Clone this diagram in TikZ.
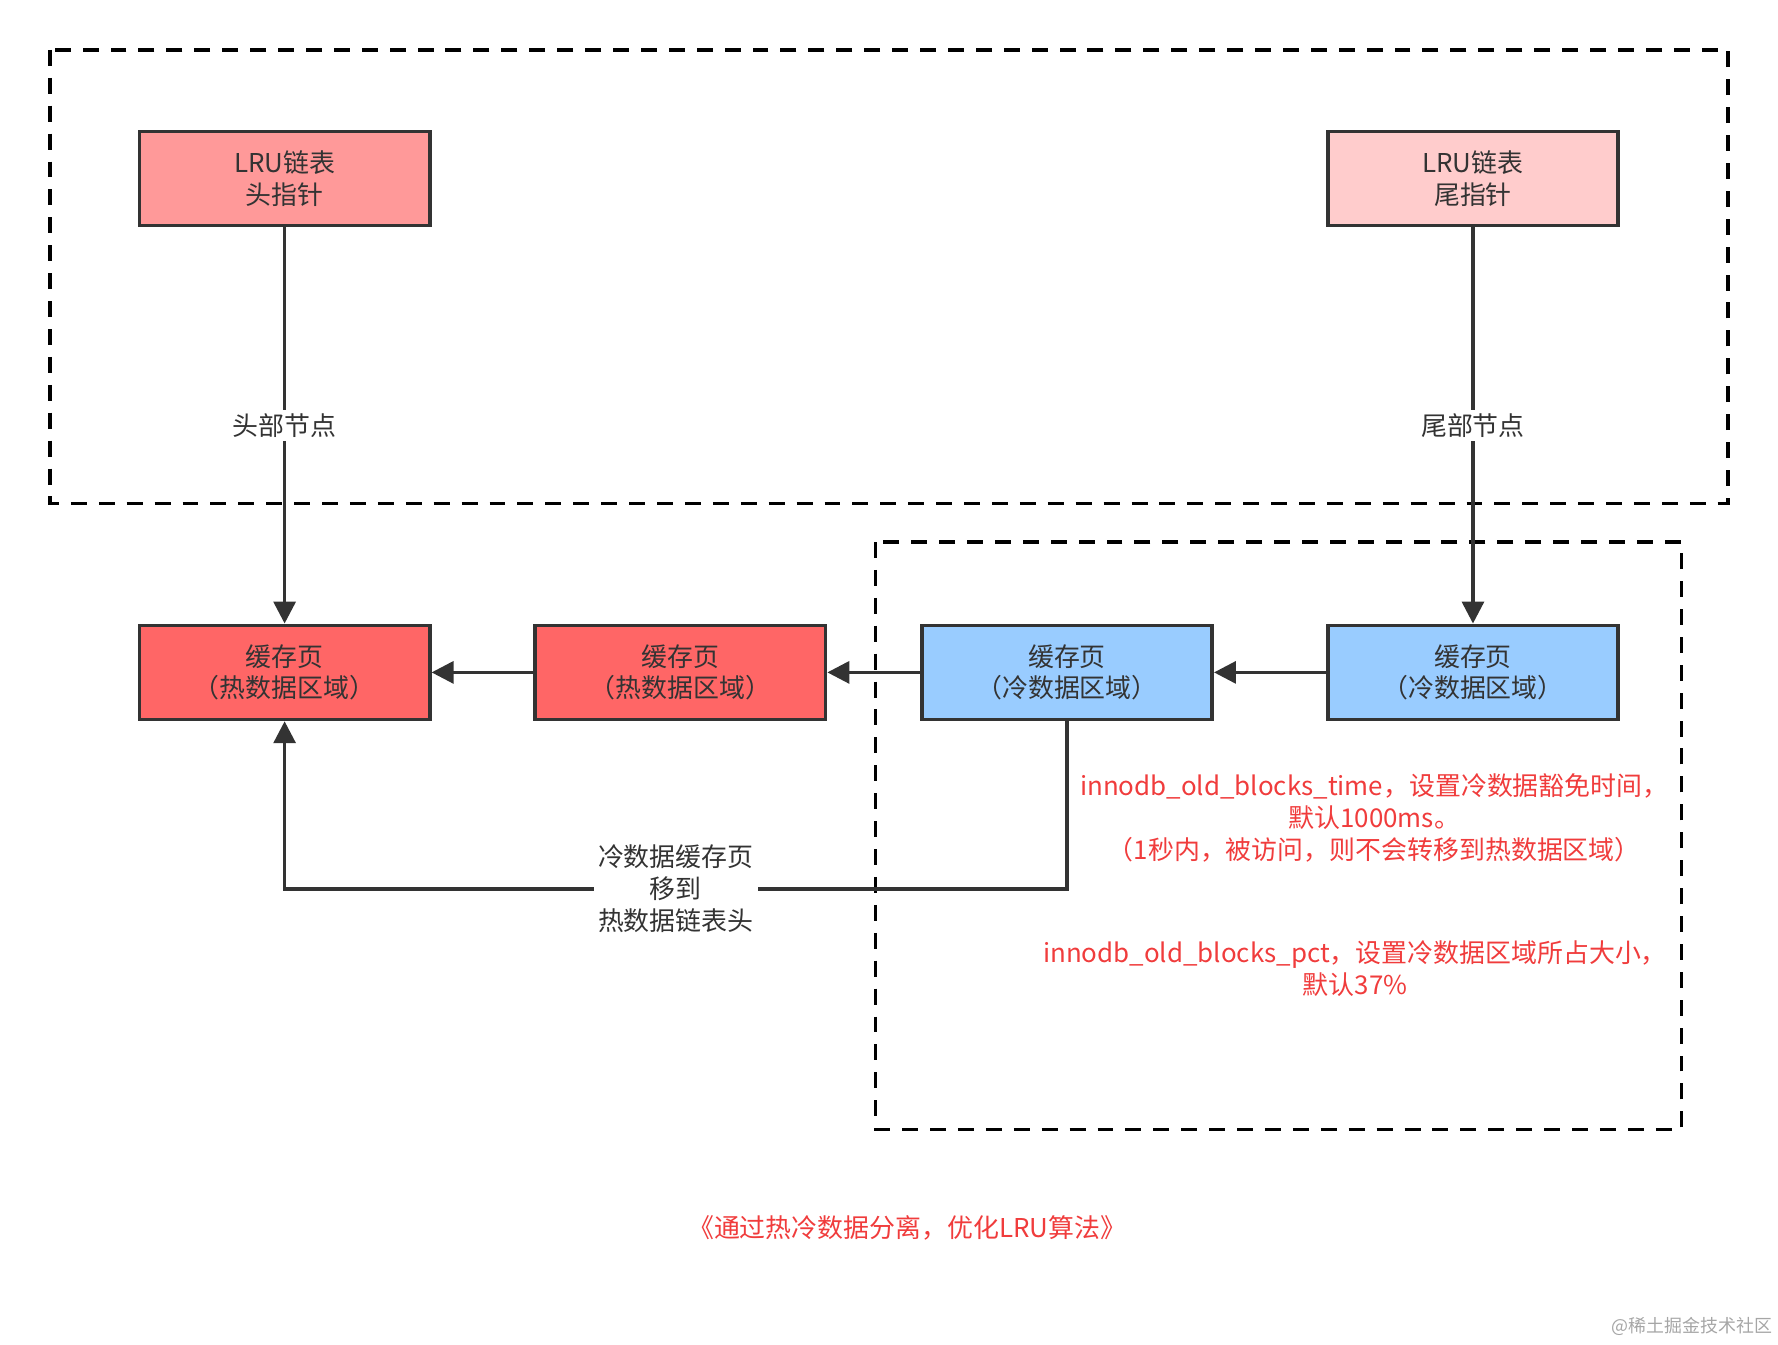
\documentclass[tikz,border=0pt]{standalone}
\usepackage{fontspec}
\setmainfont{Noto Sans CJK SC}
\usetikzlibrary{arrows.meta}
\definecolor{hd}{HTML}{FF9999}
\definecolor{tl}{HTML}{FFCCCC}
\definecolor{hot}{HTML}{FF6666}
\definecolor{cold}{HTML}{99CCFF}
\definecolor{ln}{HTML}{333333}
\definecolor{rd}{HTML}{F03C3C}
\begin{document}
\begin{tikzpicture}[x=0.01cm,y=-0.01cm,
 font=\fontsize{6.5}{8}\selectfont,
 box/.style={draw=ln,line width=0.9pt,minimum width=2.56cm,minimum height=0.83cm,align=center,inner sep=0pt,text=ln},
 dbox/.style={draw=black,line width=0.85pt,dash pattern=on 4pt off 3pt},
 arr/.style={draw=ln,line width=0.85pt,-{Triangle[width=5.5pt,length=5.5pt]}},
 lab/.style={fill=white,text=ln,inner sep=1pt},
 red/.style={text=rd,align=center}]
\useasboundingbox (0,0) rectangle (1568,1186);
\draw[dbox] (44,44) rectangle (1524,444);
\draw[dbox] (772,478) rectangle (1483,996);
\node[box,fill=hd] (A) at (251,157.5) {LRU链表\\头指针};
\node[box,fill=tl] (B) at (1299,157.5) {LRU链表\\尾指针};
\node[box,fill=hot] (H1) at (251,593) {缓存页\\（热数据区域）};
\node[box,fill=hot] (H2) at (600,593) {缓存页\\（热数据区域）};
\node[box,fill=cold] (C1) at (941,593) {缓存页\\（冷数据区域）};
\node[box,fill=cold] (C2) at (1299,593) {缓存页\\（冷数据区域）};
\draw[arr] (A) -- node[lab,pos=0.5] {头部节点} (H1);
\draw[arr] (B) -- node[lab,pos=0.5] {尾部节点} (C2);
\draw[arr] (C2) -- (C1);
\draw[arr] (C1) -- (H2);
\draw[arr] (H2) -- (H1);
\coordinate (p1) at (941,784);
\coordinate (p2) at (251,784);
\draw[arr] (C1.south) -- (p1) -- node[lab,pos=0.5,align=center] {冷数据缓存页\\移到\\热数据链表头} (p2) -- (H1.south);
\node[red] (t1) at (1212,721) {innodb\_old\_blocks\_time，设置冷数据豁免时间，\\默认1000ms。\\（1秒内，被访问，则不会转移到热数据区域）};
\node[red] (t2) at (1195,854) {innodb\_old\_blocks\_pct，设置冷数据区域所占大小，\\默认37\%};
\node[red] (cap) at (800,1083) {《通过热冷数据分离，优化LRU算法》};
\node[text=gray!70,font=\fontsize{4.5}{5}\selectfont] (wm) at (1492,1170) {@稀土掘金技术社区};
\end{tikzpicture}
\end{document}
